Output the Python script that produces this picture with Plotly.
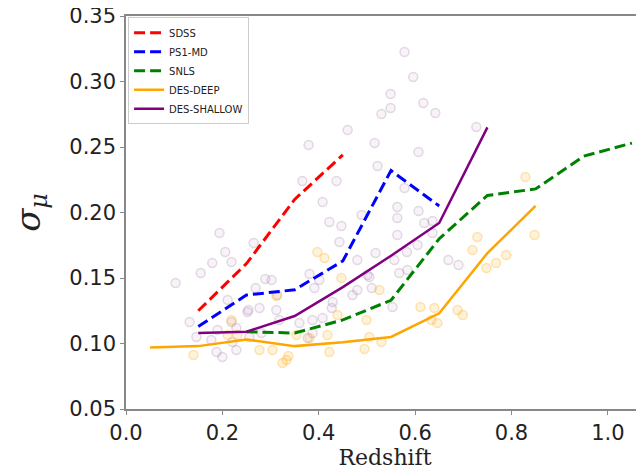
import plotly.graph_objects as go

# Binned curves
sdss_z = [0.15, 0.25, 0.35, 0.45]
sdss_sig = [0.125, 0.161, 0.210, 0.244]

ps1_z = [0.15, 0.25, 0.35, 0.45, 0.55, 0.65]
ps1_sig = [0.113, 0.137, 0.141, 0.163, 0.232, 0.205]

snls_z = [0.25, 0.35, 0.45, 0.55, 0.65, 0.75, 0.85, 0.95, 1.05]
snls_sig = [0.109, 0.108, 0.118, 0.133, 0.180, 0.213, 0.218, 0.243, 0.253]

deep_z = [0.05, 0.15, 0.25, 0.35, 0.45, 0.55, 0.65, 0.75, 0.85]
deep_sig = [0.097, 0.098, 0.103, 0.098, 0.101, 0.105, 0.123, 0.169, 0.205]

shallow_z = [0.15, 0.25, 0.35, 0.45, 0.55, 0.65, 0.75]
shallow_sig = [0.108, 0.109, 0.121, 0.143, 0.167, 0.192, 0.265]

# Individual SNe (faint scatter)
shallow_pts_z = [0.578, 0.596, 0.549, 0.549, 0.530, 0.617, 0.642, 0.727, 0.460, 0.379,
                 0.516, 0.607, 0.522, 0.366, 0.437, 0.408, 0.578, 0.563, 0.607, 0.563,
                 0.489, 0.422, 0.447, 0.619, 0.636, 0.563, 0.636, 0.194, 0.206, 0.265,
                 0.179, 0.219, 0.155, 0.103, 0.381, 0.289, 0.302, 0.269, 0.211, 0.132,
                 0.277, 0.254, 0.312, 0.318, 0.229, 0.190, 0.146, 0.177, 0.221, 0.256,
                 0.281, 0.188, 0.200, 0.229, 0.252, 0.314, 0.360, 0.387, 0.443, 0.480,
                 0.518, 0.583, 0.557, 0.605, 0.401, 0.501, 0.391, 0.470, 0.480, 0.510,
                 0.429, 0.427, 0.408, 0.553, 0.567, 0.584, 0.505, 0.669, 0.690, 0.377,
                 0.387, 0.219]
shallow_pts_sig = [0.3225, 0.3034, 0.2905, 0.2798, 0.2752, 0.2836, 0.2760, 0.2653, 0.2630, 0.2515,
                   0.2531, 0.2462, 0.2355, 0.2240, 0.2240, 0.2080, 0.2187, 0.2042, 0.2011, 0.1958,
                   0.1981, 0.1927, 0.1897, 0.1920, 0.1935, 0.1828, 0.1844, 0.1844, 0.1698, 0.1767,
                   0.1614, 0.1622, 0.1538, 0.1462, 0.1531, 0.1492, 0.1485, 0.1424, 0.1332, 0.1164,
                   0.1271, 0.1256, 0.1256, 0.1179, 0.1118, 0.1103, 0.1050, 0.1027, 0.1011, 0.1050,
                   0.1080, 0.0935, 0.0897, 0.0950, 0.1241, 0.1370, 0.1157, 0.1179, 0.1775, 0.1637,
                   0.1691, 0.1698, 0.1637, 0.1752, 0.1485, 0.1523, 0.1424, 0.1370, 0.1408, 0.1424,
                   0.1317, 0.1271, 0.1195, 0.1279, 0.1538, 0.1561, 0.1508, 0.1637, 0.1599, 0.1042,
                   0.1080, 0.1164]

deep_pts_z = [0.140, 0.219, 0.277, 0.304, 0.333, 0.325, 0.337, 0.231, 0.211, 0.312,
              0.381, 0.354, 0.422, 0.397, 0.412, 0.447, 0.526, 0.499, 0.418, 0.505,
              0.530, 0.495, 0.611, 0.640, 0.634, 0.646, 0.688, 0.699, 0.729, 0.719,
              0.748, 0.768, 0.789, 0.829, 0.848, 0.439]
deep_pts_sig = [0.0912, 0.1179, 0.0950, 0.0950, 0.0874, 0.0851, 0.0905, 0.1065, 0.1065, 0.1363,
                0.1042, 0.1065, 0.0935, 0.1698, 0.1653, 0.1500, 0.1408, 0.1179, 0.1065, 0.1050,
                0.1011, 0.0958, 0.1279, 0.1271, 0.1179, 0.1157, 0.1256, 0.1218, 0.1813, 0.1714,
                0.1576, 0.1615, 0.1676, 0.2271, 0.1828, 0.1218]

x_ticks = [0.0, 0.2, 0.4, 0.6, 0.8, 1.0]
y_ticks = [0.05, 0.10, 0.15, 0.20, 0.25, 0.30, 0.35]

fig = go.Figure()

fig.add_trace(go.Scatter(x=shallow_pts_z, y=shallow_pts_sig, mode="markers", showlegend=False,
                         marker=dict(size=9, color="rgba(128,0,128,0.05)",
                                     line=dict(color="rgba(125,105,135,0.22)", width=1.5))))
fig.add_trace(go.Scatter(x=deep_pts_z, y=deep_pts_sig, mode="markers", showlegend=False,
                         marker=dict(size=9, color="rgba(255,165,0,0.14)",
                                     line=dict(color="rgba(255,165,0,0.28)", width=1.5))))

dash = "11px,5px"
fig.add_trace(go.Scatter(x=sdss_z, y=sdss_sig, mode="lines", name="SDSS",
                         line=dict(color="red", width=3, dash=dash)))
fig.add_trace(go.Scatter(x=ps1_z, y=ps1_sig, mode="lines", name="PS1-MD",
                         line=dict(color="blue", width=3, dash=dash)))
fig.add_trace(go.Scatter(x=snls_z, y=snls_sig, mode="lines", name="SNLS",
                         line=dict(color="green", width=3, dash=dash)))
fig.add_trace(go.Scatter(x=deep_z, y=deep_sig, mode="lines", name="DES-DEEP",
                         line=dict(color="orange", width=2.5)))
fig.add_trace(go.Scatter(x=shallow_z, y=shallow_sig, mode="lines", name="DES-SHALLOW",
                         line=dict(color="purple", width=2.5)))

fig.update_layout(
    width=644, height=474,
    margin=dict(l=118, r=8, t=8, b=73, autoexpand=False),
    paper_bgcolor="white", plot_bgcolor="white",
    font=dict(family="DejaVu Sans", color="#222222"),
    legend=dict(x=0.004, y=0.997, xanchor="left", yanchor="top",
                bgcolor="rgba(255,255,255,0.85)", bordercolor="#cccccc", borderwidth=1,
                font=dict(size=10, family="DejaVu Sans"), tracegroupgap=0,
                itemwidth=30),
    xaxis=dict(range=[0, 1.075], tickvals=x_ticks, ticktext=[f"{v:.1f}" for v in x_ticks],
               automargin=False,
               showgrid=False, zeroline=False, showline=True, linecolor="#888888", linewidth=1.5,
               mirror=True, ticks="outside", ticklen=4, tickcolor="#888888",
               tickfont=dict(size=21, family="DejaVu Sans", color="#222222"),
               title=dict(text="Redshift", font=dict(size=22, family="DejaVu Serif", color="#222222"),
                          standoff=4)),
    yaxis=dict(range=[0.05, 0.35001], tickvals=y_ticks, ticktext=[f"{v:.2f}" for v in y_ticks],
               automargin=False,
               showgrid=False, zeroline=False, showline=True, linecolor="#888888", linewidth=1.5,
               mirror=False, ticks="outside", ticklen=4, tickcolor="#888888",
               ticklabeloverflow="allow",
               tickfont=dict(size=21, family="DejaVu Sans", color="#222222"),
               title=dict(text="<i>σ<sub>μ</sub></i>", font=dict(size=34, family="DejaVu Serif", color="#222222"),
                          standoff=24)),
)

fig.write_html("out.html")
